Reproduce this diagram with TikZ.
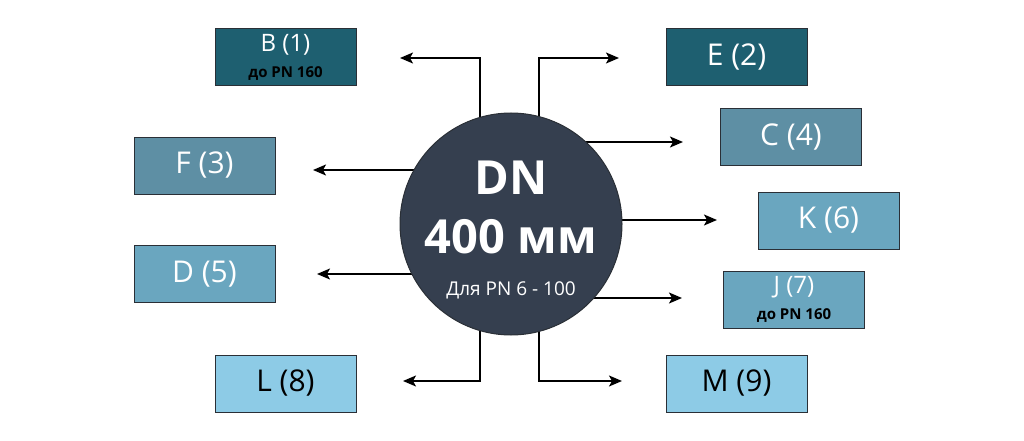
\documentclass[tikz,border=0pt]{standalone}
\usepackage{fontspec}
\setmainfont{Open Sans}
\usetikzlibrary{calc,arrows.meta}

\definecolor{tealdark}{HTML}{1E5F70}
\definecolor{tealmid}{HTML}{5E8FA4}
\definecolor{tealsoft}{HTML}{6AA6BF}
\definecolor{tealpale}{HTML}{8DCBE6}
\definecolor{hub}{HTML}{353F4F}
\definecolor{rim}{HTML}{2A2F36}

\begin{document}
\begin{tikzpicture}[x=1pt,y=-1pt]
    \tikzstyle{every node}=[inner sep=0]
    \tikzstyle{box}=[draw=rim, line width=1pt, minimum width=141pt, minimum height=57pt, align=center, text=white, font=\fontsize{30}{34}\selectfont]
    \tikzstyle{arr}=[line width=1.6pt, -{Stealth[length=13pt,width=11pt,inset=3pt]}]
    \useasboundingbox (0,0) rectangle (1024,441);
    % hub of the diagram
    \coordinate (ctr) at (511,224);
    % where the arrows end
    \coordinate (Btip) at (400,58);   \coordinate (Bknee) at (480,58);
    \coordinate (Etip) at (619,58);   \coordinate (Eknee) at (539,58);
    \coordinate (Ftip) at (313,170);
    \coordinate (Ctip) at (683,142);
    \coordinate (Dtip) at (317,274);
    \coordinate (Ktip) at (717,220);
    \coordinate (Jtip) at (682,298);
    \coordinate (Ltip) at (403,381);  \coordinate (Lknee) at (480,381);
    \coordinate (Mtip) at (622,381);  \coordinate (Mknee) at (539,381);
    \draw[arr] (Bknee |- ctr) -- (Bknee) -- (Btip);
    \draw[arr] (Eknee |- ctr) -- (Eknee) -- (Etip);
    \draw[arr] (Lknee |- ctr) -- (Lknee) -- (Ltip);
    \draw[arr] (Mknee |- ctr) -- (Mknee) -- (Mtip);
    \draw[arr] (ctr |- Ftip) -- (Ftip);
    \draw[arr] (ctr |- Dtip) -- (Dtip);
    \draw[arr] (ctr |- Ctip) -- (Ctip);
    \draw[arr] (ctr |- Ktip) -- (Ktip);
    \draw[arr] (ctr |- Jtip) -- (Jtip);
    \node[circle, fill=hub, draw=rim, line width=1pt, minimum size=222pt] (hub) at (ctr) {};
    \node[text=white, font=\fontsize{47}{50}\selectfont\bfseries] (DN) at ($(ctr)+(0,-46)$) {DN};
    \node[text=white, font=\fontsize{47}{50}\selectfont\bfseries] (size) at ($(ctr)+(0,13)$) {400 мм};
    \node[text=white, font=\fontsize{19}{22}\selectfont] (range) at ($(ctr)+(0,66)$) {Для PN 6 - 100};
    % boxes
    \node[box, fill=tealdark, font=\fontsize{24}{26}\selectfont] (B) at (285.5,57) {B (1)\\[0pt]{\fontsize{15}{17}\selectfont\bfseries\color{black}до PN 160}};
    \node[box, fill=tealdark] (E) at (736.5,57.5) {E (2)};
    \node[box, fill=tealmid] (C) at (791,137) {C (4)};
    \node[box, fill=tealmid] (F) at (204.5,165.5) {F (3)};
    \node[box, fill=tealsoft] (K) at (828.5,220.5) {K (6)};
    \node[box, fill=tealsoft] (D) at (204.5,274) {D (5)};
    \node[box, fill=tealsoft, font=\fontsize{24}{26}\selectfont] (J) at (794,299.5) {J (7)\\[0pt]{\fontsize{15}{17}\selectfont\bfseries\color{black}до PN 160}};
    \node[box, fill=tealpale, text=black] (L) at (285.5,383.5) {L (8)};
    \node[box, fill=tealpale, text=black] (M) at (736.5,383.5) {M (9)};
\end{tikzpicture}
\end{document}
